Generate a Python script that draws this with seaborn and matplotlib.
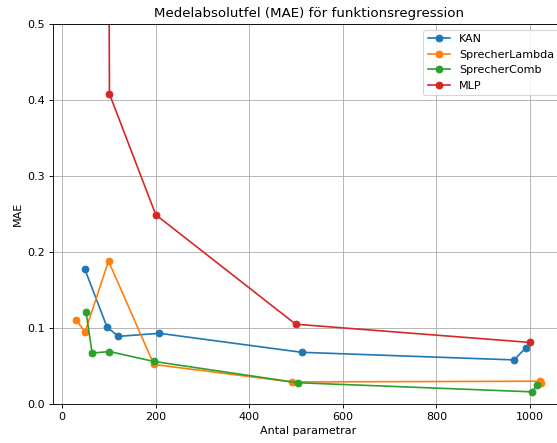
import matplotlib
matplotlib.use("Agg")
import matplotlib.pyplot as plt
import seaborn as sns
import pandas as pd

# Parameter counts and mean absolute errors per model
kan_params = [48, 96, 120, 208, 512, 966, 991]
kan_mae = [0.178, 0.101, 0.089, 0.093, 0.068, 0.058, 0.074]

lambda_params = [30, 49, 99, 196, 491, 1021, 1023]
lambda_mae = [0.110, 0.095, 0.188, 0.052, 0.029, 0.030, 0.027]

comb_params = [51, 64, 101, 196, 503, 1004, 1016]
comb_mae = [0.121, 0.067, 0.069, 0.056, 0.028, 0.016, 0.025]

mlp_params = [99, 101, 200, 499, 1000]
mlp_mae = [0.75, 0.408, 0.249, 0.105, 0.081]

series = [
    ("KAN", kan_params, kan_mae, "#1f77b4"),
    ("SprecherLambda", lambda_params, lambda_mae, "#ff7f0e"),
    ("SprecherComb", comb_params, comb_mae, "#2ca02c"),
    ("MLP", mlp_params, mlp_mae, "#d62728"),
]

W, H, DPI = 557, 443, 80
fig = plt.figure(figsize=(W / DPI, H / DPI), dpi=DPI)
ax = fig.add_axes([53 / W, (H - 404) / H, (564 - 53) / W, (404 - 24) / H])

for name, xs, ys, color in series:
    df = pd.DataFrame({"Antal parametrar": xs, "MAE": ys})
    sns.lineplot(data=df, x="Antal parametrar", y="MAE", ax=ax, color=color,
                 marker="o", markersize=6, linewidth=1.5, sort=False,
                 estimator=None, label=name)

for line in ax.lines:
    line.set_markeredgecolor(line.get_color())
    line.set_markeredgewidth(1.0)

ax.set_ylim(0, 0.5)
ax.set_xticks([0, 200, 400, 600, 800, 1000])
ax.set_yticks([0.0, 0.1, 0.2, 0.3, 0.4, 0.5])
ax.grid(True, color="#b0b0b0", linewidth=0.8)
ax.set_axisbelow(True)
ax.set_title("Medelabsolutfel (MAE) för funktionsregression", fontsize=12)
ax.set_xlabel("Antal parametrar", fontsize=10)
ax.set_ylabel("MAE", fontsize=10)
ax.legend(loc="upper right")

fig.savefig("out.png", dpi=DPI)
